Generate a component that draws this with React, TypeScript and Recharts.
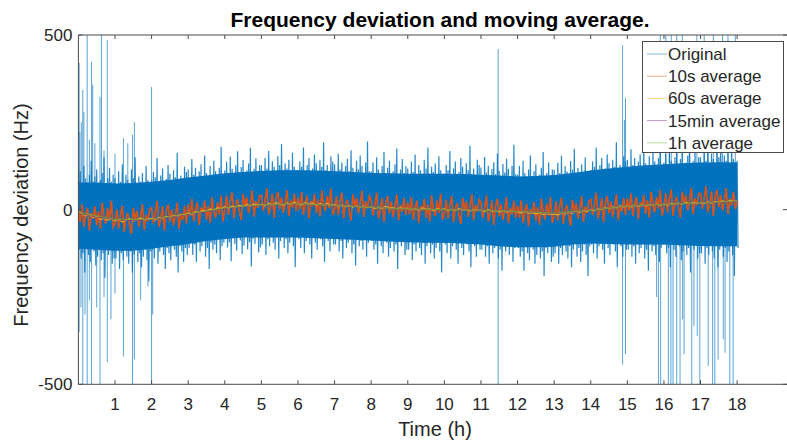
import React from 'react';
import { ComposedChart, Line, Area, XAxis, YAxis } from 'recharts';

const FONT = '"Liberation Sans", Arial, Helvetica, sans-serif';
const INK = '#262626';
const AXIS = '#4a4a4a';

// ---- axes ----
const xTicks = [1, 2, 3, 4, 5, 6, 7, 8, 9, 10, 11, 12, 13, 14, 15, 16, 17, 18];
const yTicks = [-500, 0, 500];
const xMax = 19.39;

// ---- Original signal: upper excursions every 0.05 h, lower ones in between ----
const originalHigh = [
  85, 110, 75, 125, 90, 70, 100, 140, 80, 95, 115, 65, 85, 105, 150, 75, 90, 120, 80, 100,
  90, 65, 110, 80, 130, 70, 100, 85, 60, 115, 90, 150, 75, 95, 80, 105, 65, 125, 85, 75,
  83, 108, 93, 148, 73, 98, 118, 78, 88, 128, 103, 68, 113, 93, 163, 83, 98, 73, 123, 108,
  115, 90, 145, 100, 120, 80, 110, 130, 95, 155, 105, 85, 125, 100, 140, 110, 90, 120, 180, 95,
  112, 137, 102, 152, 117, 97, 127, 167, 107, 122, 142, 92, 112, 132, 177, 102, 117, 147, 107, 127,
  128, 103, 148, 118, 168, 108, 138, 123, 98, 153, 128, 188, 113, 133, 118, 143, 103, 163, 123, 113,
  113, 138, 123, 178, 103, 128, 148, 108, 118, 158, 133, 98, 143, 123, 193, 113, 128, 103, 153, 138,
  130, 105, 160, 115, 135, 95, 125, 145, 110, 170, 120, 100, 140, 115, 155, 125, 105, 135, 195, 110,
  110, 135, 100, 150, 115, 95, 125, 165, 105, 120, 140, 90, 110, 130, 175, 100, 115, 145, 105, 125,
  118, 93, 138, 108, 158, 98, 128, 113, 88, 143, 118, 178, 103, 123, 108, 133, 93, 153, 113, 103,
  103, 128, 113, 168, 93, 118, 138, 98, 108, 148, 123, 88, 133, 113, 183, 103, 118, 93, 143, 128,
  121, 96, 151, 106, 126, 86, 116, 136, 101, 161, 111, 91, 131, 106, 146, 116, 96, 126, 186, 101,
  100, 125, 90, 140, 105, 85, 115, 155, 95, 110, 130, 80, 100, 120, 165, 90, 105, 135, 95, 115,
  114, 89, 134, 104, 154, 94, 124, 109, 84, 139, 114, 174, 99, 119, 104, 129, 89, 149, 109, 99,
  113, 138, 123, 178, 103, 128, 148, 108, 118, 158, 133, 98, 143, 123, 193, 113, 128, 103, 153, 138,
  143, 118, 173, 128, 148, 108, 138, 158, 123, 183, 133, 113, 153, 128, 168, 138, 118, 148, 208, 123,
  135, 160, 125, 175, 140, 120, 150, 190, 130, 145, 165, 115, 135, 155, 200, 125, 140, 170, 130, 150,
  150, 125, 170, 140, 190, 130, 160, 145, 120, 175, 150, 210, 135, 155, 140, 165, 125, 185, 145, 135,
  140,
];
const originalLow = [
  -115, -140, -125, -180, -105, -130, -150, -110, -120, -160, -135, -100, -145, -125, -195, -115, -130, -105, -155, -140,
  -140, -115, -170, -125, -145, -105, -135, -155, -120, -180, -130, -110, -150, -125, -165, -135, -115, -145, -205, -120,
  -115, -140, -105, -155, -120, -100, -130, -170, -110, -125, -145, -95, -115, -135, -180, -105, -120, -150, -110, -130,
  -110, -85, -130, -100, -150, -90, -120, -105, -80, -135, -110, -170, -95, -115, -100, -125, -85, -145, -105, -95,
  -83, -108, -93, -148, -73, -98, -118, -78, -88, -128, -103, -68, -113, -93, -163, -83, -98, -73, -123, -108,
  -100, -75, -130, -85, -105, -65, -95, -115, -80, -140, -90, -70, -110, -85, -125, -95, -75, -105, -165, -80,
  -85, -110, -75, -125, -90, -70, -100, -140, -80, -95, -115, -65, -85, -105, -150, -75, -90, -120, -80, -100,
  -100, -75, -120, -90, -140, -80, -110, -95, -70, -125, -100, -160, -85, -105, -90, -115, -75, -135, -95, -85,
  -90, -115, -100, -155, -80, -105, -125, -85, -95, -135, -110, -75, -120, -100, -170, -90, -105, -80, -130, -115,
  -115, -90, -145, -100, -120, -80, -110, -130, -95, -155, -105, -85, -125, -100, -140, -110, -90, -120, -180, -95,
  -100, -125, -90, -140, -105, -85, -115, -155, -95, -110, -130, -80, -100, -120, -165, -90, -105, -135, -95, -115,
  -115, -90, -135, -105, -155, -95, -125, -110, -85, -140, -115, -175, -100, -120, -105, -130, -90, -150, -110, -100,
  -110, -135, -120, -175, -100, -125, -145, -105, -115, -155, -130, -95, -140, -120, -190, -110, -125, -100, -150, -135,
  -125, -100, -155, -110, -130, -90, -120, -140, -105, -165, -115, -95, -135, -110, -150, -120, -100, -130, -190, -105,
  -100, -125, -90, -140, -105, -85, -115, -155, -95, -110, -130, -80, -100, -120, -165, -90, -105, -135, -95, -115,
  -115, -90, -135, -105, -155, -95, -125, -110, -85, -140, -115, -175, -100, -120, -105, -130, -90, -150, -110, -100,
  -100, -125, -110, -165, -90, -115, -135, -95, -105, -145, -120, -85, -130, -110, -180, -100, -115, -90, -140, -125,
  -125, -100, -155, -110, -130, -90, -120, -140, -105, -165, -115, -95, -135, -110, -150, -120, -100, -130, -190, -105,
  -110,
];

// dense core of the original signal, every 0.5 h
const coreHigh = [
  78, 78, 75, 76, 80, 85, 92, 98, 104, 108, 111, 113, 113, 112, 110, 108, 105, 104, 103,
  103, 103, 102, 100, 98, 95, 96, 99, 105, 112, 118, 123, 127, 130, 133, 135, 136, 135,
];
const coreLow = [
  -112, -115, -118, -118, -112, -105, -98, -90, -84, -80, -80, -80, -80, -82, -84, -86, -88, -91, -93,
  -95, -95, -97, -100, -105, -108, -108, -106, -100, -97, -98, -100, -100, -100, -102, -104, -105, -105,
];

// spikes of the original signal
const spikeUpHours = [
  0.02, 0.04, 0.08, 0.12, 0.15, 0.24, 0.30, 0.36, 0.39, 0.45,
  0.59, 0.63, 0.70, 0.79, 1.00, 1.23, 1.35, 1.48, 1.53, 2.00,
  11.47, 14.87, 14.92, 14.95, 15.90, 16.05, 16.15, 16.20, 16.35,
  16.50, 16.70, 16.90, 17.10, 17.20, 17.35, 17.45, 17.60, 17.75, 17.95,
];
const spikeUpValues = [
  420, 223, 250, 343, 280, 520, 200, 423, 357, 190,
  323, 520, 170, 486, 160, 205, 190, 214, 251, 351,
  460, 470, 257, 320, 520, 520, 300, 520, 520,
  520, 300, 520, 520, 300, 520, 300, 520, 520, 520,
];
const spikeDownHours = [
  0.02, 0.07, 0.12, 0.18, 0.24, 0.30, 0.36, 0.50, 0.59, 0.70,
  0.79, 0.89, 1.00, 1.23, 1.48, 1.53, 1.70, 1.90, 2.00, 2.03,
  11.47, 14.87, 14.95,
  15.80, 15.85, 15.91, 16.12, 16.19, 16.25, 16.35, 16.44, 16.51, 16.55,
  16.76, 16.82, 16.91, 16.98, 17.21, 17.33, 17.39, 17.48, 17.62, 17.67,
  17.80, 17.89,
];
const spikeDownValues = [
  -350, -280, -520, -300, -520, -260, -520, -280, -520, -250,
  -437, -314, -240, -420, -520, -428, -260, -220, -520, -300,
  -520, -443, -414,
  -250, -520, -500, -520, -520, -520, -520, -520, -314, -414,
  -520, -333, -362, -520, -447, -520, -520, -429, -371, -410,
  -520, -520,
];

// ---- 10 s average, every 0.05 h ----
const avg10s = [
  0, -35, 15, -50, -15, 5, -60, -10, -25, 10, -45, -5, -55, 20, -20, -40, 5, -30, 25, -50,
  -39, 1, -54, -14, 11, -64, -24, -9, -44, -69, 6, -29, -4, -49, -19, 16, -59, -14, -34, 1,
  5, -40, -10, 25, -50, -25, 10, -60, -5, 15, -35, 0, -45, -15, 20, -55, -10, -30, 10, -40,
  16, -19, 31, -34, 1, 21, -44, 6, -9, 26, -29, 11, -39, 36, -4, -24, 21, -14, 41, -34,
  0, 40, -15, 25, 50, -25, 15, 30, -5, -30, 45, 10, 35, -10, 20, 55, -20, 25, 5, 40,
  41, -4, 26, 61, -14, 11, 46, -24, 31, 51, 1, 36, -9, 21, 56, -19, 26, 6, 46, -4,
  35, 0, 50, -15, 20, 40, -25, 25, 10, 45, -10, 30, -20, 55, 15, -5, 40, 5, 60, -15,
  -1, 39, -16, 24, 49, -26, 14, 29, -6, -31, 44, 9, 34, -11, 19, 54, -21, 24, 4, 39,
  29, -16, 14, 49, -26, -1, 34, -36, 19, 39, -11, 24, -21, 9, 44, -31, 14, -6, 34, -16,
  21, -14, 36, -29, 6, 26, -39, 11, -4, 31, -24, 16, -34, 41, 1, -19, 26, -9, 46, -29,
  -11, 29, -26, 14, 39, -36, 4, 19, -16, -41, 34, -1, 24, -21, 9, 44, -31, 14, -6, 29,
  21, -24, 6, 41, -34, -9, 26, -44, 11, 31, -19, 16, -29, 1, 36, -39, 6, -14, 26, -24,
  12, -23, 27, -38, -3, 17, -48, 2, -13, 22, -33, 7, -43, 32, -8, -28, 17, -18, 37, -38,
  -16, 24, -31, 9, 34, -41, -1, 14, -21, -46, 29, -6, 19, -26, 4, 39, -36, 9, -11, 24,
  29, -16, 14, 49, -26, -1, 34, -36, 19, 39, -11, 24, -21, 9, 44, -31, 14, -6, 34, -16,
  32, -3, 47, -18, 17, 37, -28, 22, 7, 42, -13, 27, -23, 52, 12, -8, 37, 2, 57, -18,
  7, 47, -8, 32, 57, -18, 22, 37, 2, -23, 52, 17, 42, -3, 27, 62, -13, 32, 12, 47,
  47, 2, 32, 67, -8, 17, 52, -18, 37, 57, 7, 42, -3, 27, 62, -13, 32, 12, 52, 2,
  25,
];

// ---- 60 s average, every 0.1 h ----
const avg60s = [
  -5, -12, -18, -15, -22, -20, -28, -25, -30, -27,
  -32, -28, -35, -30, -26, -33, -29, -24, -30, -27,
  -25, -30, -22, -26, -20, -23, -17, -20, -14, -16,
  -10, -14, -6, -9, -2, -5, 2, -1, 5, 3,
  8, 4, 10, 7, 12, 9, 14, 11, 16, 13,
  15, 11, 18, 14, 20, 16, 13, 19, 15, 21,
  17, 14, 20, 16, 19, 13, 17, 14, 18, 12,
  14, 10, 13, 9, 12, 7, 11, 8, 10, 6,
  8, 4, 7, 3, 9, 5, 6, 2, 5, 3,
  4, 0, 3, -1, 5, 1, 2, -2, 3, 0,
  2, -3, 1, -2, 3, -1, 0, -4, 1, -2,
  -1, -5, 0, -4, -2, -6, -3, -7, -4, -5,
  -6, -9, -5, -10, -8, -12, -9, -14, -11, -13,
  -12, -15, -10, -13, -8, -11, -6, -8, -3, -5,
  0, -3, 3, 1, 6, 4, 8, 5, 10, 8,
  11, 8, 13, 10, 14, 11, 15, 12, 16, 13,
  16, 13, 18, 15, 19, 16, 20, 17, 21, 18,
  20, 17, 22, 19, 23, 20, 25, 22, 26, 24,
  25,
];

// ---- 15 min average (every 0.5 h) and 1 h average (every 1 h) ----
const avg15min = [
  -10, -22, -29, -31, -28, -22, -14, -5, 4, 9, 13, 16, 17, 15, 12, 10, 7, 4, 2,
  1, 0, -1, -2, -3, -5, -8, -11, -9, -1, 5, 10, 13, 15, 17, 19, 21, 24,
];
const avg1h = [-8, -28, -27, -12, 5, 14, 17, 12, 6, 2, 0, -2, -5, -10, -2, 10, 15, 19, 25];

const legendItems = [
  { name: 'Original', color: '#0072BD' },
  { name: '10s average', color: '#D95319' },
  { name: '60s average', color: '#EDB120' },
  { name: '15min average', color: '#7E2F8E' },
  { name: '1h average', color: '#77AC30' },
];

// ---- build series tables ----
type Pt = { t: number; v: number | null };
const originalData: Pt[] = [];
originalHigh.forEach((v, i) => originalData.push({ t: i / 20, v }));
originalLow.forEach((v, i) => originalData.push({ t: i / 20 + 0.025, v }));
originalData.sort((a, b) => a.t - b.t);

const coreData = coreHigh.map((h, i) => ({ t: i / 2, r: [coreLow[i], h] }));

// each spike is a separate vertical stroke (null breaks the path)
const spikeData: Pt[] = [];
spikeUpHours.forEach((t, i) => {
  spikeData.push({ t, v: 0 }, { t, v: spikeUpValues[i] }, { t, v: null });
});
spikeDownHours.forEach((t, i) => {
  spikeData.push({ t, v: 0 }, { t, v: spikeDownValues[i] }, { t, v: null });
});

const avg10sData = avg10s.map((v, i) => ({ t: i / 20, v }));
const avg60sData = avg60s.map((v, i) => ({ t: i / 10, v }));
const avg15minData = avg15min.map((v, i) => ({ t: i / 2, v }));
const avg1hData = avg1h.map((v, i) => ({ t: i, v }));

// ---- ticks (MATLAB style: marks pointing inward) ----
const BottomTick = (p: any) => (
  <g>
    <line x1={p.x} y1={p.y} x2={p.x} y2={p.y - 4} stroke={AXIS} />
    <text x={p.x} y={p.y + 25.5} textAnchor="middle" fontSize={17} fill={INK} fontFamily={FONT}>
      {p.payload.value}
    </text>
  </g>
);
const TopTick = (p: any) => (
  <line x1={p.x} y1={p.y} x2={p.x} y2={p.y + 4} stroke={AXIS} />
);
const LeftTick = (p: any) => (
  <g>
    <line x1={p.x} y1={p.y} x2={p.x + 4} y2={p.y} stroke={AXIS} />
    <text x={p.x - 6} y={p.y + 6} textAnchor="end" fontSize={17} fill={INK} fontFamily={FONT}>
      {p.payload.value}
    </text>
  </g>
);
const RightTick = (p: any) => (
  <line x1={p.x} y1={p.y} x2={p.x - 5} y2={p.y} stroke={AXIS} />
);

export default function App() {
  return (
    <div style={{ position: 'absolute', left: 0, top: 0, width: 787, height: 445, overflow: 'hidden', background: '#fff' }}>
      <ComposedChart width={789} height={445} margin={{ top: 5, right: 0, bottom: 0, left: 0 }}>
        <XAxis dataKey="t" type="number" domain={[0, xMax]} ticks={xTicks} interval={0} allowDataOverflow
          height={60.7} axisLine={{ stroke: AXIS }} tickLine={false} tickSize={0} tickMargin={0} tick={<BottomTick />} />
        <XAxis xAxisId="top" orientation="top" dataKey="t" type="number" domain={[0, xMax]} ticks={xTicks} interval={0}
          allowDataOverflow height={30} axisLine={{ stroke: AXIS }} tickLine={false} tickSize={0} tickMargin={0} tick={<TopTick />} />
        <YAxis type="number" domain={[-500, 500]} ticks={yTicks} interval={0} allowDataOverflow width={78.4}
          axisLine={{ stroke: AXIS }} tickLine={false} tickSize={0} tickMargin={0} tick={<LeftTick />} />
        <YAxis yAxisId="right" orientation="right" type="number" domain={[-500, 500]} ticks={yTicks} interval={0}
          allowDataOverflow width={1} axisLine={{ stroke: AXIS }} tickLine={false} tickSize={0} tickMargin={0} tick={<RightTick />} />

        <Line data={spikeData} dataKey="v" type="linear" stroke="#0072BD" strokeOpacity={0.65} strokeWidth={1}
          dot={false} activeDot={false} isAnimationActive={false} />
        <Line data={originalData} dataKey="v" type="linear" stroke="#0072BD" strokeOpacity={0.85} strokeWidth={1.2}
          dot={false} activeDot={false} isAnimationActive={false} />
        <Area data={coreData} dataKey="r" type="linear" fill="#0072BD" fillOpacity={1} stroke="none" isAnimationActive={false} />
        <Line data={avg10sData} dataKey="v" type="linear" stroke="#D95319" strokeWidth={1.7}
          dot={false} activeDot={false} isAnimationActive={false} />
        <Line data={avg60sData} dataKey="v" type="linear" stroke="#EDB120" strokeWidth={1.2}
          dot={false} activeDot={false} isAnimationActive={false} />
        <Line data={avg15minData} dataKey="v" type="linear" stroke="#7E2F8E" strokeWidth={0.8}
          dot={false} activeDot={false} isAnimationActive={false} />
        <Line data={avg1hData} dataKey="v" type="linear" stroke="#77AC30" strokeWidth={0.8}
          dot={false} activeDot={false} isAnimationActive={false} />
      </ComposedChart>

      <svg width={787} height={445} style={{ position: 'absolute', left: 0, top: 0, pointerEvents: 'none' }}>
        <text x={440} y={27} textAnchor="middle" fontSize={21} fontWeight="bold" fill="#000" fontFamily={FONT}>
          Frequency deviation and moving average.
        </text>
        <text x={435} y={436} textAnchor="middle" fontSize={20} fill={INK} fontFamily={FONT}>Time (h)</text>
        <text transform="translate(28,215) rotate(-90)" textAnchor="middle" fontSize={20} fill={INK} fontFamily={FONT}>
          Frequency deviation (Hz)
        </text>
        <rect x={642.5} y={41.5} width={141} height={111} fill="#fff" stroke={AXIS} strokeWidth={1} />
        {legendItems.map((it, i) => (
          <g key={it.name}>
            <line x1={647} x2={667} y1={54 + i * 22.2} y2={54 + i * 22.2} stroke={it.color} strokeOpacity={0.5} strokeWidth={1} />
            <text x={668} y={60 + i * 22.2} fontSize={17} fill={INK} fontFamily={FONT}>{it.name}</text>
          </g>
        ))}
      </svg>
    </div>
  );
}
